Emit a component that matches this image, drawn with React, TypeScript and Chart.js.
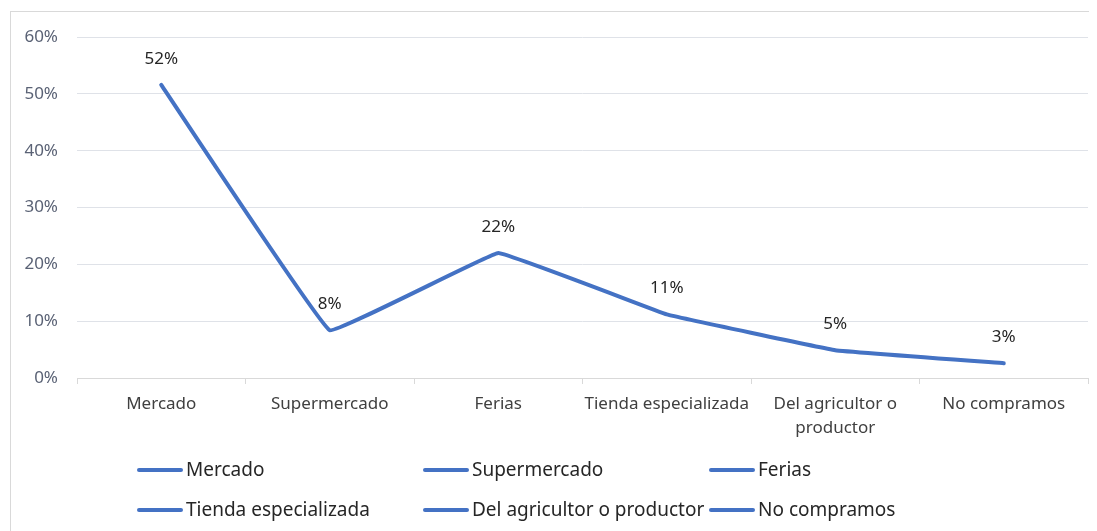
import React, { useEffect, useRef } from 'react';
import { Chart, registerables } from 'chart.js';

Chart.register(...registerables);

const categories = ['Mercado', 'Supermercado', 'Ferias', 'Tienda especializada', 'Del agricultor o productor', 'No compramos'];
const xTickLabels = [['Mercado'], ['Supermercado'], ['Ferias'], ['Tienda especializada'], ['Del agricultor o', 'productor'], ['No compramos']];
const values = [51.6, 8.4, 22.0, 11.2, 4.9, 2.6];
const dataLabels = ['52%', '8%', '22%', '11%', '5%', '3%'];
const yMin = 0;
const yMax = 60;
const yStep = 10;

const FONT = '"Noto Sans", "Open Sans", sans-serif';
const LINE_COLOR = '#4472C4';

const framePlugin = {
  id: 'frame',
  beforeDraw(chart: any) {
    const { ctx, width, height } = chart;
    ctx.save();
    ctx.fillStyle = '#ffffff';
    ctx.fillRect(0, 0, width, height);
    ctx.strokeStyle = '#d9d9d9';
    ctx.lineWidth = 1;
    ctx.strokeRect(2.5, 3.5, width + 10, height + 10);
    ctx.restore();
  },
};

const dataLabelPlugin = {
  id: 'dataLabels',
  afterDatasetsDraw(chart: any) {
    const { ctx } = chart;
    const meta = chart.getDatasetMeta(0);
    ctx.save();
    ctx.font = `17px ${FONT}`;
    ctx.fillStyle = '#262626';
    ctx.textAlign = 'center';
    ctx.textBaseline = 'middle';
    meta.data.forEach((pt: any, i: number) => {
      ctx.fillText(dataLabels[i], pt.x, pt.y - 26);
    });
    ctx.restore();
  },
};

const legendPlugin = {
  id: 'gridLegend',
  afterDraw(chart: any) {
    const { ctx } = chart;
    const startX = 129;
    const colW = 286;
    const rowYs = [462, 502];
    ctx.save();
    ctx.font = `19px ${FONT}`;
    ctx.textBaseline = 'middle';
    ctx.textAlign = 'left';
    categories.forEach((name, i) => {
      const col = i % 3;
      const row = Math.floor(i / 3);
      const x = startX + col * colW;
      const y = rowYs[row];
      ctx.strokeStyle = LINE_COLOR;
      ctx.lineWidth = 4;
      ctx.lineCap = 'round';
      ctx.beginPath();
      ctx.moveTo(x + 2, y);
      ctx.lineTo(x + 44, y);
      ctx.stroke();
      ctx.fillStyle = '#262626';
      ctx.fillText(name, x + 49, y + 1);
    });
    ctx.restore();
  },
};

export default function App() {
  const canvasRef = useRef<HTMLCanvasElement | null>(null);

  useEffect(() => {
    if (!canvasRef.current) return;
    const chart = new Chart(canvasRef.current, {
      type: 'line',
      data: {
        labels: xTickLabels as any,
        datasets: [
          {
            label: 'Serie',
            data: values,
            borderColor: LINE_COLOR,
            backgroundColor: LINE_COLOR,
            borderWidth: 4,
            pointRadius: 0,
            tension: 0.05,
            borderCapStyle: 'round',
            borderJoinStyle: 'round',
          },
        ],
      },
      options: {
        animation: false,
        responsive: true,
        maintainAspectRatio: false,
        layout: { padding: { top: 26, right: 9, left: 0, bottom: 0 } },
        plugins: {
          legend: { display: false },
          tooltip: { enabled: false },
        },
        scales: {
          x: {
            offset: true,
            grid: {
              offset: true,
              drawOnChartArea: false,
              drawTicks: true,
              tickLength: 6,
              color: '#d9d9d9',
            },
            border: { display: true, color: '#d9d9d9', width: 1 },
            ticks: {
              color: '#404040',
              font: { family: FONT, size: 17, lineHeight: 1.4 },
              padding: 8,
              maxRotation: 0,
              autoSkip: false,
            },
            afterFit(scale: any) {
              scale.height = 153;
            },
          },
          y: {
            min: yMin,
            max: yMax,
            grid: { color: '#dfe2e8', drawTicks: false, lineWidth: 1 },
            border: { display: false },
            ticks: {
              stepSize: yStep,
              color: '#5a6275',
              font: { family: FONT, size: 17 },
              padding: 19,
              callback: (v: any) => `${v}%`,
            },
            afterFit(scale: any) {
              scale.width = 69;
            },
          },
        },
      },
      plugins: [framePlugin, dataLabelPlugin, legendPlugin],
    });
    return () => chart.destroy();
  }, []);

  return (
    <div style={{ position: 'relative', width: '1089px', height: '523px' }}>
      <canvas ref={canvasRef} />
    </div>
  );
}
